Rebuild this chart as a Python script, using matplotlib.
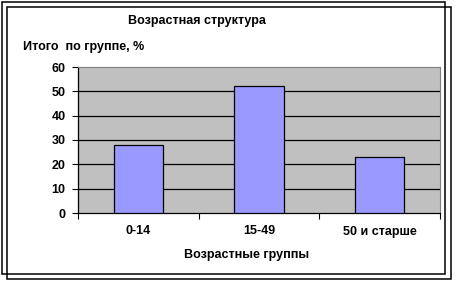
import matplotlib.pyplot as plt
from matplotlib.patches import Rectangle

# Данные
groups = ['0-14', '15-49', '50 и старше']
values = [28, 52, 23]
yticks = [0, 10, 20, 30, 40, 50, 60]

W, H = 457, 284
fig = plt.figure(figsize=(W / 100, H / 100), dpi=100)
plt.rcParams['font.family'] = ['Liberation Sans', 'DejaVu Sans']
fs = 9

# две рамки (смещённые)
fig.patches.append(Rectangle((1.5 / W, 1 - 273.5 / H), 443.5 / W, 272 / H, transform=fig.transFigure,
                             fill=False, edgecolor='black', lw=1.1, zorder=-1))
fig.patches.append(Rectangle((7.5 / W, 1 - 278.5 / H), 443 / W, 272 / H, transform=fig.transFigure,
                             fill=False, edgecolor='black', lw=1.1, zorder=-1))

ax = fig.add_axes([78 / W, 1 - 213 / H, (440 - 78) / W, (213 - 67) / H])
ax.set_facecolor('#C0C0C0')
x = range(len(groups))
ax.bar(x, values, width=0.41, color='#9999FF', edgecolor='black', linewidth=0.9, zorder=3)

ax.set_xlim(-0.5, len(groups) - 0.5)
ax.set_ylim(0, 60)
ax.set_yticks(yticks)
ax.set_yticklabels([str(v) for v in yticks], fontsize=fs, fontweight='bold')
for v in yticks[1:-1]:
    ax.axhline(v, color='black', lw=0.9, zorder=1)

ax.set_xticks([i - 0.5 for i in range(len(groups) + 1)])
ax.set_xticklabels([])
ax.set_xticks(list(x), minor=True)
ax.set_xticklabels(groups, minor=True, fontsize=fs, fontweight='bold')
ax.tick_params(axis='x', which='minor', length=0, pad=9)
ax.tick_params(axis='x', which='major', length=4, width=0.8, direction='out')
ax.tick_params(axis='y', length=4, width=0.8, pad=5)

for s in ['top', 'right']:
    ax.spines[s].set_color('#808080')
    ax.spines[s].set_linewidth(0.8)
for s in ['left', 'bottom']:
    ax.spines[s].set_color('black')
    ax.spines[s].set_linewidth(0.9)

fig.text(197 / W, 1 - 21 / H, 'Возрастная структура', ha='center', va='center',
         fontsize=fs, fontweight='bold')
fig.text(23 / W, 1 - 47 / H, 'Итого  по группе, %', ha='left', va='center',
         fontsize=fs, fontweight='bold')
fig.text(247 / W, 1 - 255 / H, 'Возрастные группы', ha='center', va='center',
         fontsize=fs, fontweight='bold')

fig.savefig('out.png', dpi=100)
